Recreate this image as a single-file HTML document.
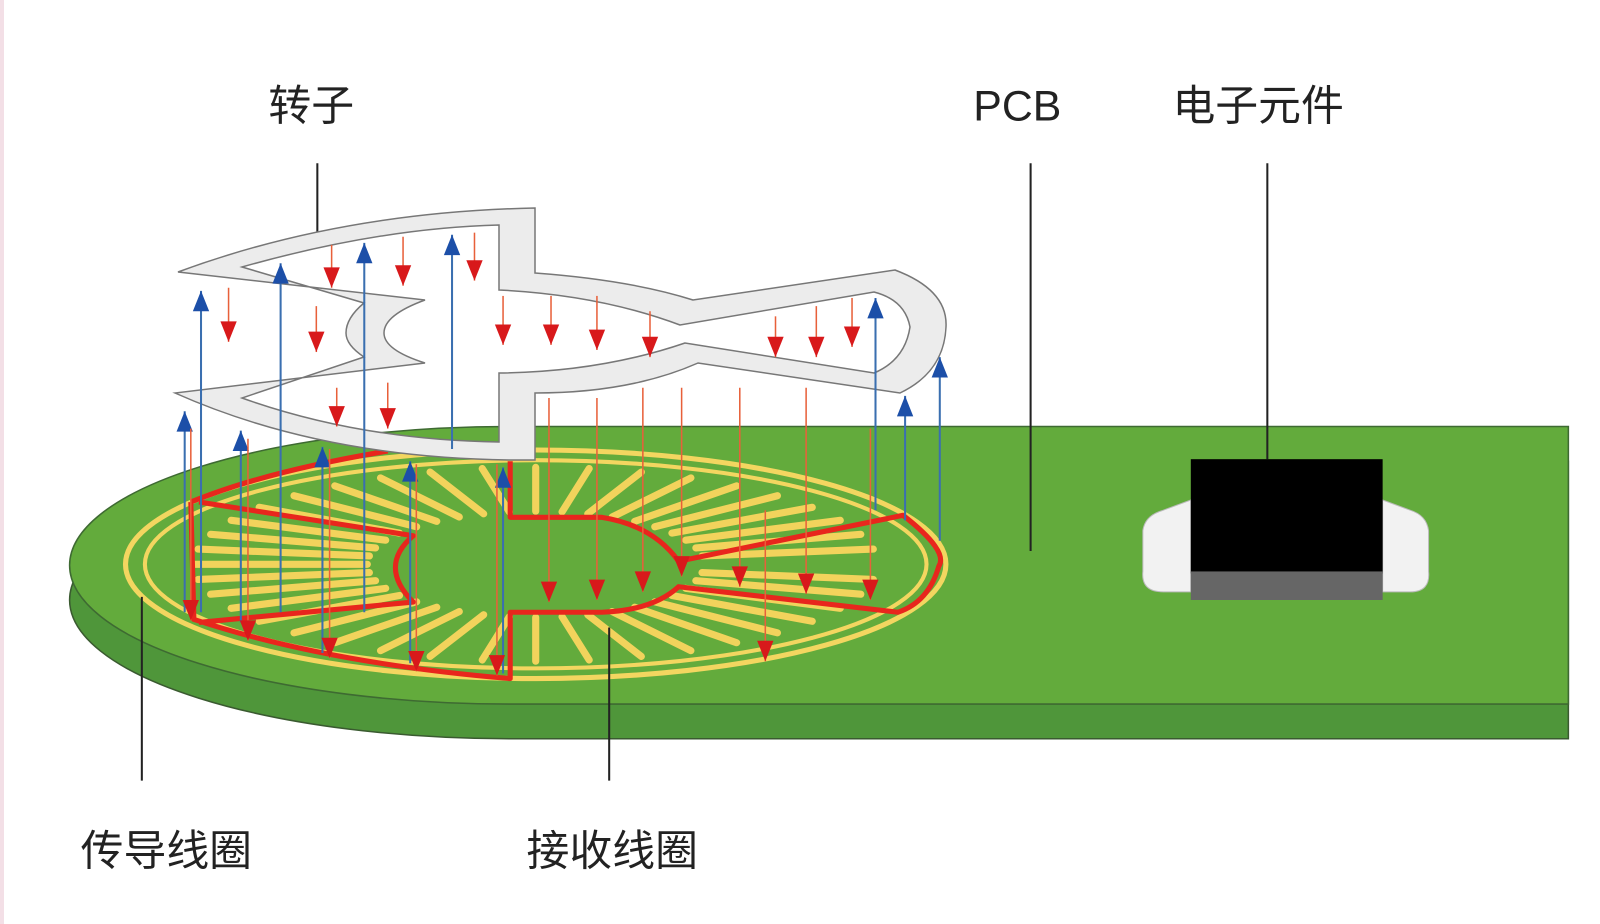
<!DOCTYPE html>
<html><head><meta charset="utf-8"><style>
html,body{margin:0;padding:0;background:#fff;}
svg{display:block;}
text{font-family:"Liberation Sans","Noto Sans CJK SC",sans-serif;fill:#222;}
</style></head><body>
<svg id="s" width="1600" height="924" viewBox="0 0 1600 924" xmlns="http://www.w3.org/2000/svg">
<rect x="0" y="0" width="1600" height="924" fill="#fff"/>
<rect x="0" y="0" width="4" height="924" fill="#f3dfe6"/>
<g id="g" transform="scale(1.0204)">
  <!-- PCB side -->
  <path d="M500,452 L1537,452 L1537,724 L500,724 A432 136 0 0 1 500 452 Z" fill="#4f963a" stroke="#3a5a30" stroke-width="1.5"/>
  <path d="M500,418 L1537,418 L1537,690 L500,690 A432 136 0 0 1 500 418 Z" fill="#63ab3c" stroke="#3e6a32" stroke-width="1.5"/>
  <!-- coils -->
  <ellipse cx="525" cy="553" rx="402" ry="112" fill="none" stroke="#f3d660" stroke-width="5"/>
  <ellipse cx="525" cy="553" rx="383" ry="102" fill="none" stroke="#f3d660" stroke-width="4"/>
  <g id="spokes" stroke="#f2d35c" stroke-width="7" stroke-linecap="round"></g>
  <path d="M187,492 Q260,462 380,442 M500,452 L500,507 L590,507 Q640,515 665,550 L885,505 Q930,540 920,555 Q910,590 880,600 L665,575 Q640,598 590,600 L500,600 L500,665 Q320,650 190,607 L187,492 M195,492 L405,525 Q370,555 405,590 L195,610" fill="none" stroke="#e8261d" stroke-width="5" stroke-linejoin="round"/>
  <!-- leader lines -->
  <g stroke="#222" stroke-width="2">
    <line x1="311" y1="160" x2="311" y2="235"/>
    <line x1="1010" y1="160" x2="1010" y2="540"/>
    <line x1="1242" y1="160" x2="1242" y2="450"/>
    <line x1="139" y1="585" x2="139" y2="765"/>
    <line x1="597" y1="615" x2="597" y2="765"/>
  </g>
  <!-- chip -->
  <path d="M1140,500 L1167,490 L1167,580 L1140,580 Q1118,580 1120,560 L1120,520 Q1122,505 1140,500 Z" fill="#f2f2f2" stroke="#bbb"/>
  <path d="M1382,500 L1355,490 L1355,580 L1382,580 Q1402,580 1400,560 L1400,520 Q1398,505 1382,500 Z" fill="#f2f2f2" stroke="#bbb"/>
  <rect x="1167" y="450" width="188" height="112" fill="#000"/>
  <rect x="1167" y="560" width="188" height="28" fill="#666"/>
  <g id="arrows"></g>
  <!-- labels -->
  <text x="305" y="118" font-size="42" text-anchor="middle">转子</text>
  <text x="997" y="118" font-size="42" text-anchor="middle">PCB</text>
  <text x="1233" y="118" font-size="42" text-anchor="middle">电子元件</text>
  <text x="163" y="848" font-size="42" text-anchor="middle">传导线圈</text>
  <text x="600" y="848" font-size="42" text-anchor="middle">接收线圈</text>
</g>
<!-- rotor in actual coords -->
<path fill-rule="evenodd" fill="#ececec" stroke="#777" stroke-width="1.5" d="M178,272 Q340,212 535,208 L535,273 Q630,280 693,300 L895,270 Q948,290 946,327 Q944,372 900,393 L698,363 Q630,393 535,393 L535,460 Q330,462 175,393 L425,363 Q384,350 384,333 Q384,315 425,300 Z M242,267 Q380,228 499,225 L499,290 Q600,295 680,325 L874,292 Q905,300 910,327 Q905,360 874,373 L685,343 Q600,372 499,373 L499,442 Q360,440 242,398 L364,357 Q346,345 346,333 Q346,318 364,303 Z"/>
<g id="arrows2" transform="scale(1.0204)"></g>
</svg>
<script>
var NS="http://www.w3.org/2000/svg";
function el(p,t,a){var e=document.createElementNS(NS,t);for(var k in a)e.setAttribute(k,a[k]);p.appendChild(e);return e;}
var sp=document.getElementById("spokes");
for(var d=0;d<360;d+=9){var r=d*Math.PI/180;var c=Math.cos(r),s=Math.sin(r);
 if(Math.abs(s)<0.08&&c>0)continue;
 el(sp,"line",{x1:525+165*c,y1:553+52*s,x2:525+335*c,y2:553+95*s});}
var A=document.getElementById("arrows2");
var blue=[[197,285,600],[275,258,600],[357,238,600],[443,230,440],[858,292,500],[921,350,530],[887,388,510],[181,403,600],[236,422,610],[316,438,640],[402,452,650],[493,458,660]];
blue.forEach(function(b){el(A,"line",{x1:b[0],y1:b[1],x2:b[0],y2:b[2],stroke:"#3a6fb0","stroke-width":2});
 el(A,"path",{d:"M"+(b[0]-8)+","+(b[1]+20)+" L"+b[0]+","+b[1]+" L"+(b[0]+8)+","+(b[1]+20)+"Z",fill:"#1c4fa8"});});
var red=[[224,282,335],[325,240,282],[395,232,280],[465,228,275],[310,300,345],[493,290,338],[540,290,338],[585,290,343],[637,305,350],[760,310,350],[800,300,350],[835,292,340],[330,380,418],[380,375,420],
[187,420,608],[243,430,628],[323,440,645],[408,455,658],[487,455,662],[538,390,590],[585,390,588],[630,380,580],[668,380,565],[725,380,575],[790,380,582],[853,420,588],[750,500,648]];
red.forEach(function(b){el(A,"line",{x1:b[0],y1:b[1],x2:b[0],y2:b[2],stroke:"#e8603a","stroke-width":1.5});
 el(A,"path",{d:"M"+(b[0]-8)+","+(b[2]-20)+" L"+b[0]+","+b[2]+" L"+(b[0]+8)+","+(b[2]-20)+"Z",fill:"#d8191b"});});
</script>
</body></html>
